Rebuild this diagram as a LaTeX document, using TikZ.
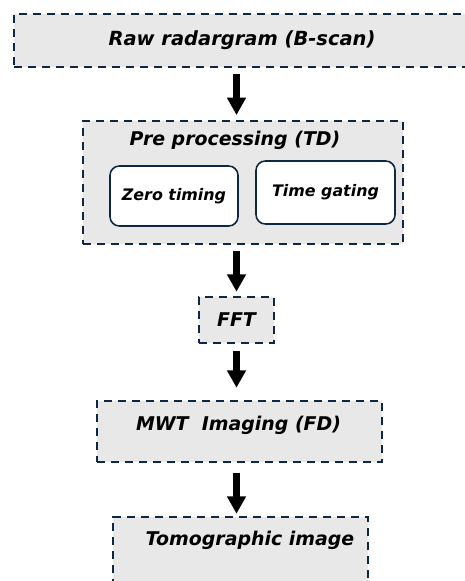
\documentclass[tikz,border=0pt]{standalone}
\usepackage{fontspec}
\newfontfamily\lblfont{DejaVu Sans}
\usepackage{tikz}
\usetikzlibrary{arrows.meta, positioning}
\definecolor{dashnavy}{HTML}{0E2841}
\definecolor{boxgray}{HTML}{E8E8E8}
\tikzstyle{stage} = [%
					draw = dashnavy,
					fill = boxgray,
					line width = 1.9pt,
					dash pattern = on 6.2pt off 4.3pt,
					rectangle, inner sep = 0pt
					]
\tikzstyle{substep} = [%
					draw = dashnavy,
					fill = white,
					line width = 1.2pt,
					rounded corners = 7pt,
					rectangle, inner sep = 0pt
					]
\tikzstyle{flow} = [%
					line width = 4.8pt,
					-{Triangle[width=13.5pt, length=13pt]}
					]
\tikzstyle{lbl} = [%
					font = \lblfont\fontsize{14.2}{16}\selectfont\bfseries\itshape
					]
\tikzstyle{sublbl} = [%
					font = \lblfont\fontsize{11.9}{13}\selectfont\bfseries\itshape
					]

\begin{document}
\begin{tikzpicture}[x=0.75pt, y=-0.75pt]
		
		\useasboundingbox (0,0) rectangle (464,581);
		
		% Nodes
		%% Raw data
		\node[stage, lbl, font=\lblfont\fontsize{14.6}{16}\selectfont\bfseries\itshape, minimum width=342pt, minimum height=39.75pt] (raw) at (242,40.5) {Raw radargram (B-scan)};
		%% Pre processing
		\node[stage, minimum width=240pt, minimum height=92.25pt] (pre) at (243,182.5) {};
		\node[lbl] (pretitle) at (235,140) {Pre processing (TD)};
		\node[substep, sublbl, minimum width=96pt, minimum height=45pt] (zero) at (174,196) {Zero timing};
		\node[substep, sublbl, minimum width=104.25pt, minimum height=47.25pt] (gate) at (325.5,192.5) {Time gating};
		%% FFT
		\node[stage, lbl, minimum width=56.25pt, minimum height=34.5pt] (fft) at (236.5,320) {FFT};
		%% Imaging
		\node[stage, minimum width=213.75pt, minimum height=45.75pt] (mwt) at (239.5,431.5) {};
		\node[lbl] (mwttext) at (238.5,425) {MWT\ \ Imaging (FD)};
		%% Result
		\node[stage, minimum width=191.25pt, minimum height=64.5pt] (tomo) at (240.5,560) {};
		\node[lbl] (tomotext) at (250,540) {Tomographic image};
		
		% Arrows
		\draw[flow, shorten <=4.5pt, shorten >=3.5pt] (raw.south -| fft.north) -- (pre.north -| fft.north);
		\draw[flow, shorten <=4.5pt, shorten >=3pt] (pre.south -| fft.north) -- (fft.north);
		\draw[flow, shorten <=5pt, shorten >=9pt] (fft.south) -- (mwt.north -| fft.south);
		\draw[flow, shorten <=7pt, shorten >=1.5pt] (mwt.south -| fft.south) -- (tomo.north -| fft.south);
	\end{tikzpicture}
\end{document}
